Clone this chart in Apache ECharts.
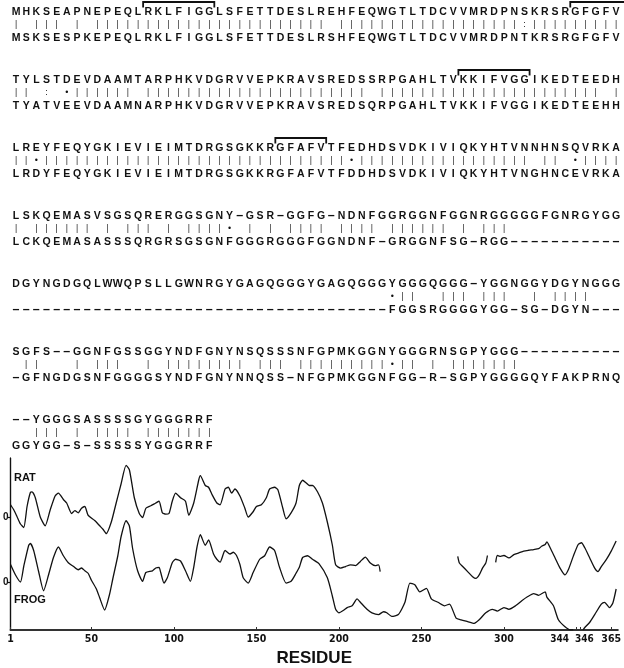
<!DOCTYPE html>
<html><head><meta charset="utf-8">
<script src="https://cdn.jsdelivr.net/npm/echarts@6/dist/echarts.min.js"></script>
<style>html,body{margin:0;padding:0;background:#fff}#c{width:624px;height:668px}</style>
</head><body><div id="c"></div>
<script>
// ---------------- DATA ----------------
const ratSeq = [
 'MHKSEAPNEPEQLRKLFIGGLSFETTDESLREHFEQWGTLTDCVVMRDPNSKRSRGFGFV',
 'TYLSTDEVDAAMTARPHKVDGRVVEPKRAVSREDSSRPGAHLTVKKIFVGGIKEDTEEDH',
 'LREYFEQYGKIEVIEIMTDRGSGKKRGFAFVTFEDHDSVDKIVIQKYHTVNNHNSQVRKA',
 'LSKQEMASVSGSQRERGGSGNY-GSR-GGFG-NDNFGGRGGNFGGNRGGGGGFGNRGYGG',
 'DGYNGDGQLWWQPSLLGWNRGYGAGQGGGYGAGQGGGYGGGQGGG-YGGNGGYDGYNGGG',
 'SGFS--GGNFGSSGGYNDFGNYNSQSSSNFGPMKGGNYGGGRNSGPYGGG----------',
 '--YGGGSASSSSGYGGGRRF'
];
const frogSeq = [
 'MSKSESPKEPEQLRKLFIGGLSFETTDESLRSHFEQWGTLTDCVVMRDPNTKRSRGFGFV',
 'TYATVEEVDAAMNARPHKVDGRVVEPKRAVSREDSQRPGAHLTVKKIFVGGIKEDTEEHH',
 'LRDYFEQYGKIEVIEIMTDRGSGKKRGFAFVTFDDHDSVDKIVIQKYHTVNGHNCEVRKA',
 'LCKQEMASASSSQRGRSGSGNFGGGRGGGFGGNDNF-GRGGNFSG-RGG-----------',
 '-------------------------------------FGGSRGGGGYGG-SG-DGYN---',
 '-GFNGDGSNFGGGGSYNDFGNYNNQSS-NFGPMKGGNFGG-R-SGPYGGGGQYFAKPRNQ',
 'GGYGG-S-SSSSSYGGGRRF'
];
// [block, position(1-based), mark] for similar (non-identical) residues
const simMarks = [[0,51,':'],[1,4,':'],[1,6,'•'],[2,3,'•'],[2,34,'•'],[2,56,'•'],[3,22,'•'],[4,38,'•'],[5,38,'•']];
// [block, first position, last position (0 = runs off the right edge)]
const brackets = [[0,14,20],[0,56,0],[1,45,51],[2,27,31]];

const ratRes = [1,3,5,7,9,11,13,14,16,19,22,25,28,30,33,35,38,40,42,44,46,48,52,55,57,59,62,65,68,71,73,76,79,81,83,86,89,91,93,95,97,99,101,104,107,109,112,115,116,119,121,123,126,128,131,133,135,137,140,143,145,148,150,153,156,158,161,163,166,168,171,174,176,178,180,182,184,187,190,193,196,198,201,204,207,210,213,216,219,222,224,225,226,
 272,273,275,278,281,283,285,287,289,290,292,295,296,298,300,303,306,309,312,315,318,321,323,325,326,328,331,334,337,339,342,345,347,349,352,355,357,359,362,365,368];
const ratVal = [0.7,0.4,0.0,-0.4,-0.6,0.6,1.4,1.44,1.1,0.0,-0.5,0.4,1.2,1.36,1.0,0.8,0.2,0.36,0.24,0.5,0.6,0.1,-0.2,-0.5,-0.7,-0.95,-0.3,0.8,1.9,2.95,2.7,1.1,0.2,-0.04,0.5,0.64,0.8,0.9,0.24,0.16,0.2,0.9,1.36,1.1,0.9,0.1,0.8,2.1,2.36,1.8,1.7,1.3,0.8,0.7,1.6,1.7,1.36,1.6,1.2,0.5,0.0,0.3,0.6,0.7,1.1,1.6,1.7,1.56,0.5,-0.1,0.24,0.8,1.8,2.1,1.96,1.8,1.8,1.44,0.8,-0.3,-1.6,-2.73,-2.92,-2.83,-2.73,-2.78,-2.54,-2.29,-2.63,-2.78,-2.73,-3.12,null,
 -2.25,-2.63,-2.83,-3.12,-3.41,-3.51,-3.31,-2.92,-2.63,-2.2,null,-2.59,-2.2,-2.25,-2.2,-2.34,-2.15,-2.05,-1.95,-1.9,-1.86,-1.81,-1.66,-1.57,-1.42,-1.76,-2.34,-2.92,-3.31,-3.02,-2.25,-1.57,-1.47,-1.76,-2.34,-2.92,-3.12,-2.83,-2.44,-1.95,-1.37];

const frogRes = [1,4,7,9,12,13,15,18,21,24,27,30,33,36,39,42,44,46,48,50,53,55,58,61,63,66,68,71,73,75,78,81,83,87,89,91,92,94,96,99,101,104,107,110,112,114,116,119,121,124,126,128,131,134,136,138,140,142,145,148,152,155,158,161,164,168,171,174,176,178,181,184,188,193,196,198,200,203,205,208,211,213,217,220,224,227,229,232,236,240,243,246,249,253,256,260,264,267,271,274,278,282,285,289,293,296,300,303,307,311,314,318,321,325,326,330,333,337,340,342,344,348,349,352,355,359,361,364,366,368];
const frogVal = [1.0,0.4,0.0,0.9,2.1,2.2,1.8,0.6,-0.5,0.4,1.4,2.0,1.5,1.1,0.9,0.7,0.8,0.64,0.5,0.1,-0.4,-0.9,-1.6,-0.7,0.2,1.5,2.6,3.5,3.2,1.9,0.64,0.04,0.54,0.64,0.8,0.84,0.54,-0.06,0.24,1.1,1.3,1.2,0.64,0.04,0.84,2.0,2.7,2.1,2.4,1.6,1.3,1.14,1.8,1.6,1.7,1.5,1.0,0.24,-0.06,0.54,1.3,1.5,2.0,1.8,0.84,-0.06,0.04,0.5,0.84,1.4,1.5,1.3,1.04,0.24,-0.8,-1.56,-1.76,-1.6,-1.46,-1.36,-0.96,-1.16,-1.56,-1.76,-1.86,-1.7,-1.76,-1.96,-1.86,-1.16,-0.06,-0.16,-0.56,-0.36,-0.96,-1.16,-1.36,-1.26,-2.06,-2.16,-2.26,-2.36,-2.16,-1.76,-1.56,-1.66,-1.46,-1.56,-1.36,-1.06,-0.86,-0.66,-0.76,-0.56,-0.86,-1.36,-2.16,-2.56,-2.73,-2.73,null,-2.73,-2.6,-2.3,-1.86,-1.26,-1.16,-1.46,-1.2,-0.4];

const xTicks = [1,50,100,150,200,250,300,344,346,365];
const curveLabels = ['RAT','FROG'];
const axisTitle = 'RESIDUE';

// ---------------- LAYOUT ----------------
const colX0 = 16, colStep = 10.17;
const rowY0 = 12, rowStep = 68, barDy = 13, frogDy = 26;
const SEQ_FONT = 'bold 10.5px "Liberation Sans", Arial, sans-serif';
const DASH_FONT = 'bold 12.5px "Liberation Sans", Arial, sans-serif';
const BAR_FONT = '8.5px "Liberation Sans", Arial, sans-serif';
const DOT_FONT = '9px "Liberation Sans", Arial, sans-serif';

const gridTop = 458, gridBottom = 38, gridH = 668 - gridTop - gridBottom;
const unitPx = 17.5;
const ratZeroY = 517, frogZeroY = 582;

const els = [];
function addText(t, x, y, font, fill) {
  els.push({type:'text', silent:true, style:{text:t, x:x, y:y, font:font, fill:fill||'#111',
    align:'center', verticalAlign:'middle'}});
}
function matchLine(b) {
  const a = ratSeq[b], f = frogSeq[b];
  const m = [];
  for (let i = 0; i < a.length; i++) m.push((a[i] === f[i] && a[i] !== '-') ? '|' : ' ');
  simMarks.forEach(s => { if (s[0] === b) m[s[1]-1] = s[2]; });
  return m;
}
function addSeq(str, y) {
  for (let i = 0; i < str.length; i++) {
    const ch = str[i], x = colX0 + i*colStep;
    if (ch === '-') addText('–', x, y, DASH_FONT);
    else addText(ch, x, y, SEQ_FONT);
  }
}
for (let b = 0; b < ratSeq.length; b++) {
  const y = rowY0 + b*rowStep;
  addSeq(ratSeq[b], y);
  addSeq(frogSeq[b], y + frogDy);
  const m = matchLine(b);
  m.forEach((c, i) => {
    if (c === ' ') return;
    const x = colX0 + i*colStep;
    if (c === '|') addText('|', x, y + barDy, BAR_FONT, '#222');
    else addText(c, x, y + barDy, DOT_FONT, '#111');
  });
}
brackets.forEach(br => {
  const y = rowY0 + br[0]*rowStep;
  const x1 = colX0 + (br[1]-1)*colStep - colStep/2;
  const top = y - 10, foot = y - 4.5;
  let pts;
  if (br[2] === 0) pts = [[x1, foot],[x1, top],[624, top]];
  else { const x2 = colX0 + (br[2]-1)*colStep + colStep/2; pts = [[x1, foot],[x1, top],[x2, top],[x2, foot]]; }
  els.push({type:'polyline', silent:true, shape:{points:pts}, style:{stroke:'#111', lineWidth:1.8, fill:null}});
});
// curve labels
els.push({type:'text', silent:true, style:{text:curveLabels[0], x:14, y:478, font:'bold 11px "Liberation Sans", Arial, sans-serif', fill:'#111', verticalAlign:'middle'}});
els.push({type:'text', silent:true, style:{text:curveLabels[1], x:14, y:600, font:'bold 11px "Liberation Sans", Arial, sans-serif', fill:'#111', verticalAlign:'middle'}});

function pairs(xs, ys) { return xs.map((x, i) => [x, ys[i] === null ? '-' : ys[i]]); }

const ratMax = (ratZeroY - gridTop)/unitPx, ratMin = -(gridTop + gridH - ratZeroY)/unitPx;
const frogMax = (frogZeroY - gridTop)/unitPx, frogMin = -(gridTop + gridH - frogZeroY)/unitPx;

function yAx(min, max) {
  return {type:'value', min:min, max:max, position:'left',
    axisLine:{show:true, onZero:false, lineStyle:{color:'#111', width:1.2}},
    axisTick:{show:true, length:3, customValues:[0], lineStyle:{color:'#111', width:1.2}},
    axisLabel:{show:true, customValues:[0], margin:2, color:'#111', fontSize:10, fontWeight:'bold', fontFamily:'Liberation Sans'},
    splitLine:{show:false}};
}
const LBL_FONT = '"Liberation Sans Narrow", "DejaVu Sans Condensed", "Liberation Sans", sans-serif';
const chart = echarts.init(document.getElementById('c'), null, {renderer:'canvas'});
chart.setOption({
  animation:false,
  backgroundColor:'#fff',
  grid:{left:5, right:5, top:gridTop, bottom:gridBottom, containLabel:false},
  xAxis:{type:'value', min:1, max:369,
    axisLine:{show:true, onZero:false, lineStyle:{color:'#333', width:2}},
    axisTick:{show:true, inside:true, length:3, customValues:xTicks, lineStyle:{color:'#333'}},
    axisLabel:{show:true, customValues:xTicks, margin:4, color:'#111', fontSize:10.5, fontWeight:'bold',
      fontFamily:LBL_FONT,
      formatter:function(v){ if (v===344) return '{l|344}'; if (v===346) return '{r|346}'; return String(v); },
      rich:{l:{padding:[0,34,0,0], fontSize:10, fontWeight:'bold', color:'#111', fontFamily:LBL_FONT},
            r:{padding:[0,0,0,9], fontSize:10, fontWeight:'bold', color:'#111', fontFamily:LBL_FONT}}},
    splitLine:{show:false},
    name:axisTitle, nameLocation:'middle', nameGap:20,
    nameTextStyle:{fontSize:17, fontWeight:'bold', color:'#111', fontFamily:'"Liberation Sans", Arial, sans-serif'}},
  yAxis:[yAx(ratMin, ratMax), yAx(frogMin, frogMax)],
  series:[
    {type:'line', yAxisIndex:0, data:pairs(ratRes, ratVal), showSymbol:false, smooth:0.2, connectNulls:false,
     lineStyle:{color:'#111', width:1.3}, silent:true},
    {type:'line', yAxisIndex:1, data:pairs(frogRes, frogVal), showSymbol:false, smooth:0.2, connectNulls:false,
     lineStyle:{color:'#111', width:1.3}, silent:true}
  ],
  graphic:{elements:els}
});
</script>
</body></html>
